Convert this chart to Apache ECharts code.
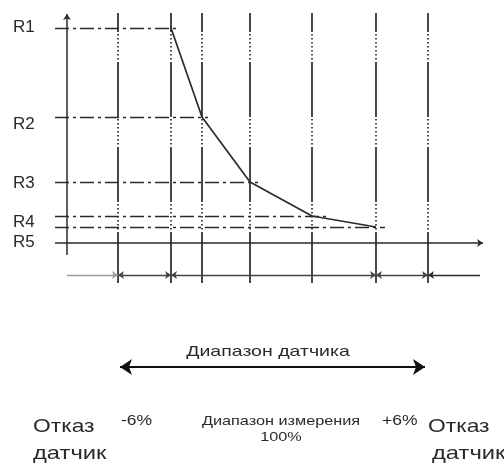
<!DOCTYPE html>
<html>
<head>
<meta charset="utf-8">
<script src="https://cdn.jsdelivr.net/npm/echarts@6/dist/echarts.min.js"></script>
<style>
  html, body { margin: 0; padding: 0; background: #fff; }
  #chart { width: 504px; height: 464px; }
</style>
</head>
<body>
<div id="chart"></div>
<script>
// diagram units: x = 0 at the vertical axis, y = 0 at the horizontal axis
const levelNames = ['R1', 'R2', 'R3', 'R4', 'R5']
const curveX = [104, 135, 183, 245, 309]
const curveY = [215, 126, 61, 27, 16]
const dashEndX = [113, 141, 191, 263, 318]
const gridX = [51, 104, 135, 183, 245, 309, 361]
const dimBreaks = [0, 51, 104, 309, 361, 413]
const rangeEnds = [53, 358]
const rangeTitle = 'Диапазон датчика'
const failLabel = ['Отказ', 'датчик']
const lowLabel = '-6%'
const highLabel = '+6%'
const measureLabel = ['Диапазон измерения', '100%']

const INK = '#2a2a2a'
const FONT = '"Liberation Sans", Arial, sans-serif'

const chart = echarts.init(document.getElementById('chart'))

const vertDash = [55, 2, 1.5, 2.5, 1.5, 2.5, 1.5, 2.5, 1.5, 2.5, 1.5, 2.5, 1.5, 2.5, 1.5, 2.5]

const dimSegs = []
for (let i = 0; i < dimBreaks.length - 1; i++) {
  dimSegs.push({
    coords: [[dimBreaks[i], -32], [dimBreaks[i + 1], -32]],
    first: i === 0,
    last: i === dimBreaks.length - 2,
  })
}

// the source lettering is a bit wider than Arial, hence sx
function txt(text, x, y, size, align, sx) {
  return {
    type: 'text',
    x: x,
    y: y,
    scaleX: sx || 1,
    style: {
      text: text,
      fill: INK,
      font: size + 'px ' + FONT,
      textAlign: align || 'left',
      textVerticalAlign: 'middle',
    },
  }
}

const levelLabelY = [27, 124, 183, 222, 242]

const option = {
  animation: false,
  grid: { left: 0, right: 0, top: 0, bottom: 0 },
  xAxis: { type: 'value', min: -67, max: 437, show: false },
  yAxis: { type: 'value', min: -221, max: 243, show: false },
  series: [
    {
      type: 'lines',
      coordinateSystem: 'cartesian2d',
      silent: true,
      lineStyle: { color: INK, width: 1.7, type: vertDash, dashOffset: 36, opacity: 1 },
      data: gridX.map(x => ({ coords: [[x, 230], [x, -40]] })),
    },
    {
      type: 'lines',
      coordinateSystem: 'cartesian2d',
      silent: true,
      lineStyle: { color: INK, width: 1.3, type: [14, 4, 3, 4], opacity: 1 },
      data: curveY.map((y, i) => ({ coords: [[-12, y], [dashEndX[i], y]] })),
    },
    {
      type: 'lines',
      coordinateSystem: 'cartesian2d',
      silent: true,
      symbol: ['none', 'arrow'],
      symbolSize: 6,
      lineStyle: { color: INK, width: 1.5, opacity: 1 },
      data: [
        { coords: [[0, -12], [0, 229]] },
        { coords: [[-12, 0], [416, 0]] },
      ],
    },
    {
      type: 'lines',
      coordinateSystem: 'cartesian2d',
      silent: true,
      symbol: ['none', 'arrow'],
      symbolSize: 6,
      lineStyle: { color: '#9a9a9a', width: 1.4, opacity: 1 },
      data: dimSegs.filter(s => s.first).map(s => ({ coords: s.coords })),
    },
    {
      type: 'lines',
      coordinateSystem: 'cartesian2d',
      silent: true,
      symbol: ['arrow', 'arrow'],
      symbolSize: 6,
      lineStyle: { color: '#444', width: 1.4, opacity: 1 },
      data: dimSegs.filter(s => !s.first && !s.last).map(s => ({ coords: s.coords })),
    },
    {
      type: 'lines',
      coordinateSystem: 'cartesian2d',
      silent: true,
      symbol: ['arrow', 'none'],
      symbolSize: 6,
      lineStyle: { color: INK, width: 1.4, opacity: 1 },
      data: dimSegs.filter(s => s.last).map(s => ({ coords: s.coords })),
    },
    {
      type: 'lines',
      coordinateSystem: 'cartesian2d',
      silent: true,
      symbol: ['arrow', 'arrow'],
      symbolSize: 12,
      lineStyle: { color: '#111', width: 2, opacity: 1 },
      data: [{ coords: [[rangeEnds[0], -124], [rangeEnds[1], -124]] }],
    },
    {
      type: 'line',
      silent: true,
      showSymbol: false,
      data: curveX.map((x, i) => [x, curveY[i]]),
      lineStyle: { color: INK, width: 1.7 },
    },
  ],
  graphic: [
    ...levelNames.map((n, i) => txt(n, 13, levelLabelY[i], 17)),
    txt(rangeTitle, 268, 352, 15, 'center', 1.3),
    txt(failLabel[0], 33, 427, 19, 'left', 1.2),
    txt(failLabel[1], 33, 454, 19, 'left', 1.25),
    txt(lowLabel, 121, 421, 14, 'left', 1.25),
    txt(measureLabel[0], 281, 421, 13, 'center', 1.25),
    txt(measureLabel[1], 281, 437, 13, 'center', 1.25),
    txt(highLabel, 382, 421, 14, 'left', 1.25),
    txt(failLabel[0], 428, 427, 19, 'left', 1.2),
    txt(failLabel[1], 432, 454, 19, 'left', 1.25),
  ],
}

chart.setOption(option)
</script>
</body>
</html>
